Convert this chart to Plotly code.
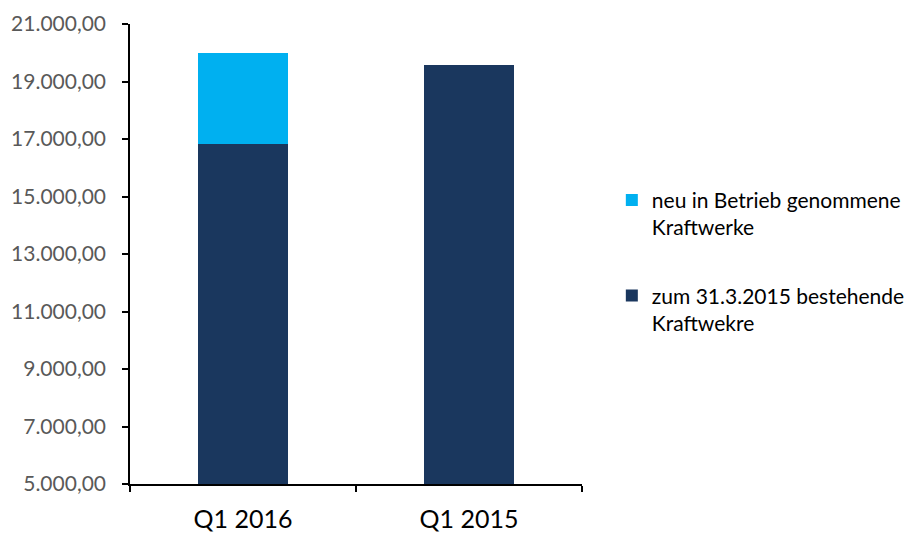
import plotly.graph_objects as go

categories = ["Q1 2016", "Q1 2015"]
bestehende = [16840, 19560]
neu = [3160, 0]
tick_vals = [5000, 7000, 9000, 11000, 13000, 15000, 17000, 19000, 21000]

DARK = "#1A375E"
LIGHT = "#00B0F0"
FONT = "Lato"

fig = go.Figure()
fig.add_trace(go.Bar(
    x=categories, y=bestehende, name="zum 31.3.2015 bestehende<br>Kraftwekre",
    marker=dict(color=DARK, line=dict(width=0)), legendgroup="b", legendrank=2,
))
fig.add_trace(go.Bar(
    x=categories, y=neu, name="neu in Betrieb genommene<br>Kraftwerke",
    marker=dict(color=LIGHT, line=dict(width=0)), legendgroup="a", legendrank=1,
))

fig.update_layout(
    width=921, height=533,
    barmode="stack", bargap=0.6,
    separators=",.",
    plot_bgcolor="white", paper_bgcolor="white",
    margin=dict(l=122, r=347, t=16, b=57, autoexpand=False),
    font=dict(family=FONT, size=16, color="#000000"),
    legend=dict(
        x=1.066, xanchor="left", y=0.483, yanchor="middle",
        traceorder="grouped", tracegroupgap=38, valign="top",
        font=dict(family=FONT, size=21, color="#000000"),
        itemwidth=30,
    ),
    showlegend=True,
)
fig.update_yaxes(
    range=[5000, 21000], tickvals=tick_vals, tickformat=",.2f",
    showgrid=False, zeroline=False, automargin=False,
    showline=True, linecolor="black", linewidth=1.5,
    ticks="outside", ticklen=6, tickcolor="black", tickwidth=1.5,
    ticklabelstandoff=12,
    tickfont=dict(family=FONT, size=21, color="#595959"),
)
fig.update_xaxes(
    showgrid=False, showline=True, linecolor="black", linewidth=1.5,
    ticks="outside", ticklen=6, tickcolor="black", tickwidth=1.5,
    tickson="boundaries", automargin=False,
    ticklabelstandoff=12,
    tickfont=dict(family=FONT, size=25, color="#000000"),
)

fig.write_html("out.html")
